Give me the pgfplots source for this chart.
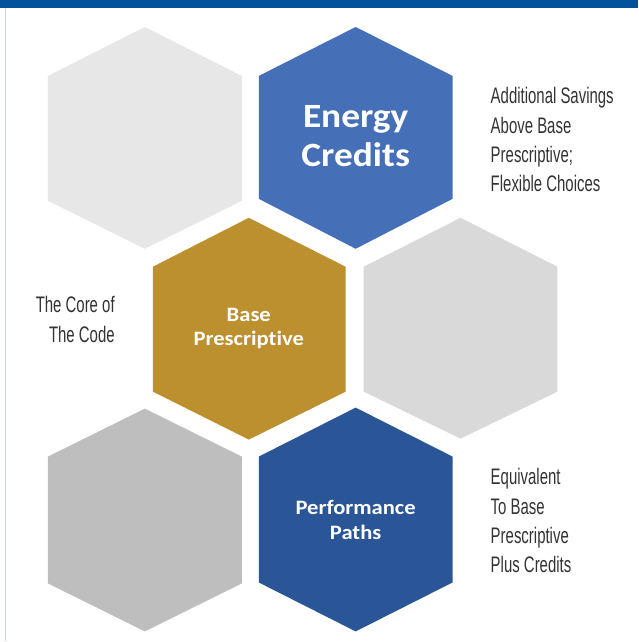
\documentclass[border=0pt]{standalone}
\usepackage{pgfplots}
\pgfplotsset{compat=1.18}
\usepackage{fontspec}
\setmainfont{Carlito}
\newfontfamily\boldlab[FakeStretch=1.1, Ligatures=NoCommon]{Carlito}
\newfontfamily\condfont[FakeStretch=0.665]{Liberation Sans}
\definecolor{topbar}{HTML}{03529C}
\definecolor{edge}{HTML}{C8D4EA}
\definecolor{hexA}{HTML}{E7E7E7}
\definecolor{hexB}{HTML}{4570B8}
\definecolor{hexC}{HTML}{BC902F}
\definecolor{hexD}{HTML}{D9D9D9}
\definecolor{hexE}{HTML}{BEBEBE}
\definecolor{hexF}{HTML}{2A5597}
\definecolor{txt}{HTML}{333333}
\begin{document}
\begin{tikzpicture}
\begin{axis}[
  width=639bp, height=642bp, scale only axis,
  xmin=0, xmax=639, ymin=0, ymax=642, y dir=reverse,
  axis lines=none, ticks=none, clip=false,
]
% background
\addplot[fill=white, draw=none] coordinates {(0,0) (639,0) (639,642) (0,642)} -- cycle;
\addplot[fill=topbar, draw=none] coordinates {(0,0) (639,0) (639,8) (0,8)} -- cycle;
\addplot[edge, line width=1.2bp] coordinates {(5.5,8) (5.5,642)};
% hexagons
\addplot[fill=hexA, draw=none] coordinates {(145,27) (242,76) (242,201) (145,249) (48,201) (48,76)} -- cycle;
\addplot[fill=hexB, draw=none] coordinates {(356,27) (453,76) (453,199) (356,249) (259,199) (259,76)} -- cycle;
\addplot[fill=hexC, draw=none] coordinates {(249,218) (346,267) (346,392) (249,440) (153,392) (153,267)} -- cycle;
\addplot[fill=hexD, draw=none] coordinates {(461,218) (558,267) (558,392) (461,439) (364,392) (364,267)} -- cycle;
\addplot[fill=hexE, draw=none] coordinates {(145,409) (242,457) (242,584) (145,632) (48,584) (48,457)} -- cycle;
\addplot[fill=hexF, draw=none] coordinates {(356,408) (453,457) (453,583) (356,632) (259,583) (259,457)} -- cycle;
% hexagon labels (one node per line, baseline-anchored)
\begin{scope}[every node/.style={white, inner sep=0pt, anchor=base}]
\node[font=\fontsize{34bp}{39bp}\boldlab\bfseries] at (axis cs:356,128) {Energy};
\node[font=\fontsize{34bp}{39bp}\boldlab\bfseries] at (axis cs:356,167) {Credits};
\node[font=\fontsize{20.5bp}{25bp}\boldlab\bfseries] at (axis cs:249,322) {Base};
\node[font=\fontsize{20.5bp}{25bp}\boldlab\bfseries] at (axis cs:249,346) {Prescriptive};
\node[font=\fontsize{20.5bp}{25bp}\boldlab\bfseries] at (axis cs:356,515) {Performance};
\node[font=\fontsize{20.5bp}{25bp}\boldlab\bfseries] at (axis cs:356,540) {Paths};
\end{scope}
% side texts
\begin{scope}[every node/.style={txt, font=\fontsize{22.5bp}{25bp}\condfont, inner sep=0pt}]
\node[anchor=base west] at (axis cs:491,104) {Additional Savings};
\node[anchor=base west] at (axis cs:491,134) {Above Base};
\node[anchor=base west] at (axis cs:491,163) {Prescriptive;};
\node[anchor=base west] at (axis cs:491,192) {Flexible Choices};
\node[anchor=base east] at (axis cs:115,313) {The Core of};
\node[anchor=base east] at (axis cs:115,343) {The Code};
\node[anchor=base west] at (axis cs:491,485) {Equivalent};
\node[anchor=base west] at (axis cs:491,515) {To Base};
\node[anchor=base west] at (axis cs:491,544) {Prescriptive};
\node[anchor=base west] at (axis cs:491,573) {Plus Credits};
\end{scope}
\end{axis}
\end{tikzpicture}
\end{document}
